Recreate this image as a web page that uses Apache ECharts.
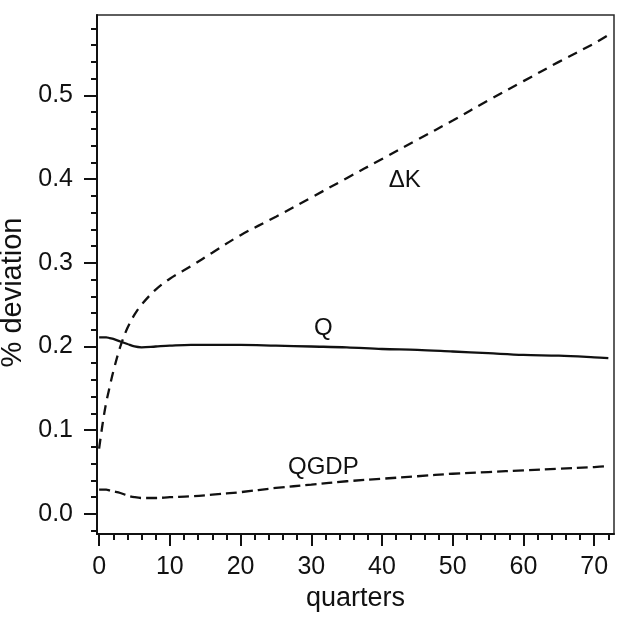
<!DOCTYPE html>
<html>
<head>
<meta charset="utf-8">
<script src="https://cdn.jsdelivr.net/npm/echarts@6/dist/echarts.min.js"></script>
<style>
  html, body { margin: 0; padding: 0; background: #fff; }
  #chart { width: 623px; height: 619px; }
</style>
</head>
<body>
<div id="chart"></div>
<script>
// Horizon in quarters
const quarters = [0, 0.5, 1, 1.5, 2, 3, 4, 5, 6, 8, 10, 13, 16, 20, 25, 30, 35, 40, 45, 50, 55, 60, 65, 70, 72];
// Responses, % deviation
const deltaK = [0.078, 0.108, 0.133, 0.152, 0.17, 0.2, 0.222, 0.238, 0.25, 0.268, 0.281, 0.296, 0.312, 0.333, 0.355, 0.378, 0.401, 0.424, 0.447, 0.47, 0.494, 0.517, 0.54, 0.562, 0.572];
const qLevel = [0.211, 0.211, 0.211, 0.21, 0.209, 0.206, 0.203, 0.2, 0.199, 0.2, 0.201, 0.202, 0.202, 0.202, 0.201, 0.2, 0.199, 0.197, 0.196, 0.194, 0.192, 0.19, 0.189, 0.187, 0.186];
const qgdp = [0.029, 0.029, 0.029, 0.028, 0.027, 0.025, 0.022, 0.02, 0.019, 0.019, 0.02, 0.021, 0.023, 0.026, 0.031, 0.035, 0.039, 0.042, 0.045, 0.048, 0.05, 0.052, 0.054, 0.056, 0.057];

// Tick values
const xMajor = [0, 10, 20, 30, 40, 50, 60, 70];
const xMinor = [2, 4, 6, 8, 12, 14, 16, 18, 22, 24, 26, 28, 32, 34, 36, 38, 42, 44, 46, 48, 52, 54, 56, 58, 62, 64, 66, 68, 72];
const yMajor = [0.0, 0.1, 0.2, 0.3, 0.4, 0.5];
const yMinor = [-0.02, 0.02, 0.04, 0.06, 0.08, 0.12, 0.14, 0.16, 0.18, 0.22, 0.24, 0.26, 0.28, 0.32, 0.34, 0.36, 0.38, 0.42, 0.44, 0.46, 0.48, 0.52, 0.54, 0.56, 0.58];

// Curve annotations (in data coordinates)
const curveNames = ['ΔK', 'Q', 'QGDP'];
const curveNameAt = [[43.2, 0.398], [31.7, 0.222], [31.7, 0.056]];

const ink = '#111';
const font = 'Liberation Sans, Arial, sans-serif';
const pairs = vals => quarters.map((x, i) => [x, vals[i]]);

const X_MIN = -0.3, X_MAX = 72.8, Y_MIN = -0.024, Y_MAX = 0.596;

const chart = echarts.init(document.getElementById('chart'), null, { renderer: 'canvas' });
chart.setOption({
  backgroundColor: '#fff',
  animation: false,
  grid: {
    left: 97, right: 9, top: 15, bottom: 85,
    outerBoundsMode: 'none', containLabel: false,
    show: true, borderColor: '#2a2a2a', borderWidth: 1.5, backgroundColor: 'transparent'
  },
  xAxis: [
    {
      type: 'value', min: X_MIN, max: X_MAX, position: 'bottom',
      name: 'quarters', nameLocation: 'middle', nameGap: 48,
      nameTextStyle: { fontFamily: font, fontSize: 27, color: ink },
      axisLine: { show: true, onZero: false, lineStyle: { color: ink, width: 2 } },
      axisTick: { show: true, customValues: xMajor, length: 12, lineStyle: { color: ink, width: 2 } },
      axisLabel: { customValues: xMajor, fontFamily: font, fontSize: 25, color: ink, margin: 21 },
      splitLine: { show: false }
    },
    {
      type: 'value', min: X_MIN, max: X_MAX, position: 'bottom',
      axisLine: { show: false, onZero: false },
      axisTick: { show: true, customValues: xMinor, length: 6, lineStyle: { color: ink, width: 2 } },
      axisLabel: { show: false },
      splitLine: { show: false }
    }
  ],
  yAxis: [
    {
      type: 'value', min: Y_MIN, max: Y_MAX, position: 'left',
      name: '% deviation', nameLocation: 'middle', nameGap: 61,
      nameTextStyle: { fontFamily: font, fontSize: 29, color: ink, padding: [0, 36, 0, 0] },
      axisLine: { show: true, onZero: false, lineStyle: { color: ink, width: 2 } },
      axisTick: { show: true, customValues: yMajor, length: 13, lineStyle: { color: ink, width: 2 } },
      axisLabel: {
        customValues: yMajor, fontFamily: font, fontSize: 25, color: ink, margin: 24,
        formatter: v => v.toFixed(1)
      },
      splitLine: { show: false }
    },
    {
      type: 'value', min: Y_MIN, max: Y_MAX, position: 'left',
      axisLine: { show: false, onZero: false },
      axisTick: { show: true, customValues: yMinor, length: 6, lineStyle: { color: ink, width: 2 } },
      axisLabel: { show: false },
      splitLine: { show: false }
    }
  ],
  series: [
    {
      name: 'ΔK', type: 'line', data: pairs(deltaK), smooth: 0.35, showSymbol: false,
      lineStyle: { color: ink, width: 2.3, type: [10, 7] }
    },
    {
      name: 'Q', type: 'line', data: pairs(qLevel), smooth: 0.35, showSymbol: false,
      lineStyle: { color: ink, width: 2.3, type: 'solid' }
    },
    {
      name: 'QGDP', type: 'line', data: pairs(qgdp), smooth: 0.35, showSymbol: false,
      lineStyle: { color: ink, width: 2.3, type: [11, 5] }
    }
  ]
});

// Place the curve names through the axis scales
chart.setOption({
  graphic: curveNames.map((n, i) => {
    const [px, py] = chart.convertToPixel({ xAxisIndex: 0, yAxisIndex: 0 }, curveNameAt[i]);
    return {
      type: 'text', x: px, y: py, silent: true,
      style: {
        text: n, fill: ink, font: '24px ' + font,
        align: 'center', verticalAlign: 'middle'
      }
    };
  })
});
</script>
</body>
</html>
